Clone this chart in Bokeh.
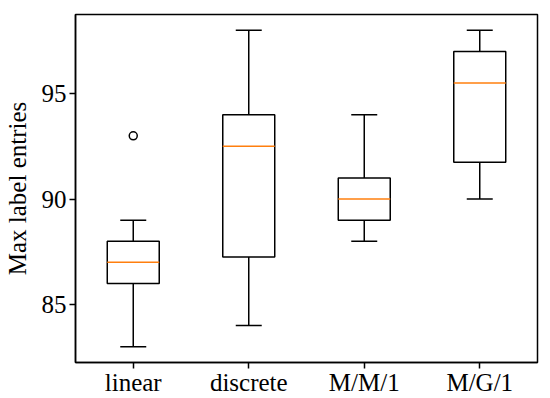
from bokeh.plotting import figure
from bokeh.models import Range1d, FixedTicker
from bokeh.embed import file_html
from bokeh.resources import INLINE

categories = ["linear", "discrete", "M/M/1", "M/G/1"]
positions = [1, 2, 3, 4]
whisker_low = [83, 84, 88, 90]
q1 = [86, 87.25, 89, 91.75]
median = [87, 92.5, 90, 95.5]
q3 = [88, 94, 91, 97]
whisker_high = [89, 98, 94, 98]
outlier_x = [1]
outlier_y = [93]
y_ticks = [85, 90, 95]

FONT = "Liberation Serif"
box_w = 0.45
cap_w = box_w / 2

p = figure(width=550, height=398, output_backend="svg", toolbar_location=None,
           x_range=Range1d(0.5, 4.5), y_range=Range1d(82.25, 98.75))
p.min_border_left = 73
p.min_border_right = 13
p.min_border_top = 14
p.min_border_bottom = 36
p.grid.visible = False
p.outline_line_color = "black"
p.outline_line_width = 1.5
p.background_fill_color = "white"
p.border_fill_color = "white"

lefts = [x - box_w / 2 for x in positions]
rights = [x + box_w / 2 for x in positions]
cl = [x - cap_w / 2 for x in positions]
cr = [x + cap_w / 2 for x in positions]

# whiskers
p.segment(positions, q3, positions, whisker_high, line_color="black", line_width=1.5)
p.segment(positions, whisker_low, positions, q1, line_color="black", line_width=1.5)
# caps
p.segment(cl, whisker_high, cr, whisker_high, line_color="black", line_width=1.5)
p.segment(cl, whisker_low, cr, whisker_low, line_color="black", line_width=1.5)
# boxes
p.quad(left=lefts, right=rights, bottom=q1, top=q3, fill_color=None,
       line_color="black", line_width=1.5)
# medians
p.segment(lefts, median, rights, median, line_color="#ff7f0e", line_width=1.5)
# outliers
p.scatter(outlier_x, outlier_y, size=8, fill_color=None, line_color="black", line_width=1.5)

p.xaxis.ticker = FixedTicker(ticks=positions)
p.xaxis.major_label_overrides = {pos: c for pos, c in zip(positions, categories)}
p.yaxis.ticker = FixedTicker(ticks=y_ticks)
p.yaxis.axis_label = "Max label entries"

for ax in (p.xaxis[0], p.yaxis[0]):
    ax.major_label_text_font = FONT
    ax.major_label_text_font_size = "25px"
    ax.major_label_text_color = "black"
    ax.axis_label_text_font = FONT
    ax.axis_label_text_font_size = "25px"
    ax.axis_label_text_font_style = "normal"
    ax.axis_label_text_color = "black"
    ax.minor_tick_line_color = None
    ax.major_tick_in = 0
    ax.major_tick_out = 6
    ax.major_tick_line_width = 1.5
    ax.axis_line_width = 1.5

p.xaxis.major_label_standoff = 0
p.yaxis.major_label_standoff = 3
p.yaxis.axis_label_standoff = 8

open("out.html", "w").write(file_html(p, INLINE))
